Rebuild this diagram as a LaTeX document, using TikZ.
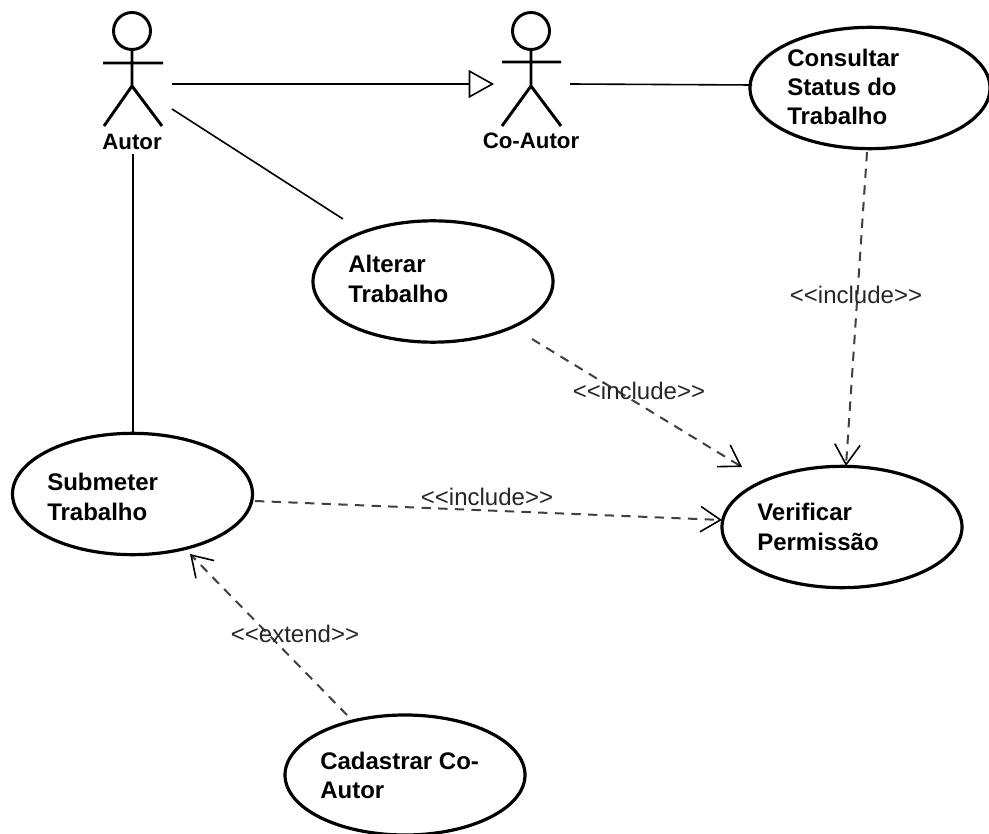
\documentclass[tikz,border=0pt]{standalone}
\usepackage{fontspec}
\setmainfont{Liberation Sans}
\usetikzlibrary{arrows.meta,shapes.geometric}
\tikzset{
  px/.style={x=0.75pt,y=-0.75pt},
  usecase/.style={draw,ellipse,line width=2.4pt,inner sep=0pt,minimum width=180pt,minimum height=91pt},
  utext/.style={font=\bfseries\fontsize{18}{22}\selectfont,align=left,anchor=west,inner sep=0pt},
  actorlabel/.style={font=\bfseries\fontsize{16.7}{18}\selectfont,inner sep=0pt},
  assoc/.style={line width=1.2pt},
  dep/.style={line width=1.5pt,draw=black!75,dash pattern=on 7pt off 5.5pt,-{Straight Barb[length=15pt,width=19pt,line width=1.2pt,black]}},
  gen/.style={line width=1.5pt,-{Triangle[open,length=19pt,width=21pt,line width=1.2pt,fill=white]}},
  deplabel/.style={font=\fontsize{18}{20}\selectfont,inner sep=0pt,text=black!85},
  actorline/.style={line width=2.2pt}
}
\begin{document}
\begin{tikzpicture}[px]
\useasboundingbox (0,0) rectangle (989,834);
% actors
\draw[actorline] (132,31) circle (18.5);
\draw[actorline] (132,50) -- (132,86) (103,63) -- (163,63) (132,86) -- (104,126) (132,86) -- (162,126);
\draw[actorline] (531,31) circle (18.5);
\draw[actorline] (531,50) -- (531,86) (502,62) -- (561,62) (531,86) -- (502,126) (531,86) -- (561,126);
\node[actorlabel] (autor) at (132,142) {Autor};
\node[actorlabel] (coautor) at (531,141) {Co-Autor};
\coordinate (autorA) at (172,84);
\coordinate (autorB) at (172,109);
\coordinate (autorC) at (133,154);
\coordinate (coA) at (494,84);
\coordinate (coB) at (570,84);
% use cases
\node[usecase] (consultar) at (870,88) {};
\node[usecase] (alterar) at (433,281.5) {};
\node[usecase] (submeter) at (132.5,494) {};
\node[usecase] (verificar) at (842,527) {};
\node[usecase,minimum height=90pt] (cadastrar) at (405,775) {};
\node[utext] (t1) at (787,87) {Consultar\\Status do\\Trabalho};
\node[utext] (t2) at (348,279) {Alterar\\Trabalho};
\node[utext] (t3) at (47,497) {Submeter\\Trabalho};
\node[utext] (t4) at (757,527) {Verificar\\Permissão};
\node[utext] (t5) at (320,775.5) {Cadastrar Co-\\Autor};
% anchors
\coordinate (e1) at (343,219);
\coordinate (e2) at (133,433);
\coordinate (e3) at (752,85);
\coordinate (d1s) at (867,152);
\coordinate (d1e) at (846,466);
\coordinate (d2s) at (532,339);
\coordinate (d2e) at (742,467);
\coordinate (d3s) at (255,501);
\coordinate (d3e) at (722,520);
\coordinate (d4s) at (347,715);
\coordinate (d4e) at (190,554);
% connectors
\draw[gen] (autorA) -- (coA);
\draw[assoc] (coB) -- (e3);
\draw[assoc] (autorB) -- (e1);
\draw[assoc] (autorC) -- (e2);
\draw[dep] (d1s) -- (d1e);
\draw[dep] (d2s) -- (d2e);
\draw[dep] (d3s) -- (d3e);
\draw[dep] (d4s) -- (d4e);
\node[deplabel] (l1) at (856,295) {<{}<include>{}>};
\node[deplabel] (l2) at (639,391) {<{}<include>{}>};
\node[deplabel] (l3) at (487,497) {<{}<include>{}>};
\node[deplabel] (l4) at (295,634) {<{}<extend>{}>};
\end{tikzpicture}
\end{document}
